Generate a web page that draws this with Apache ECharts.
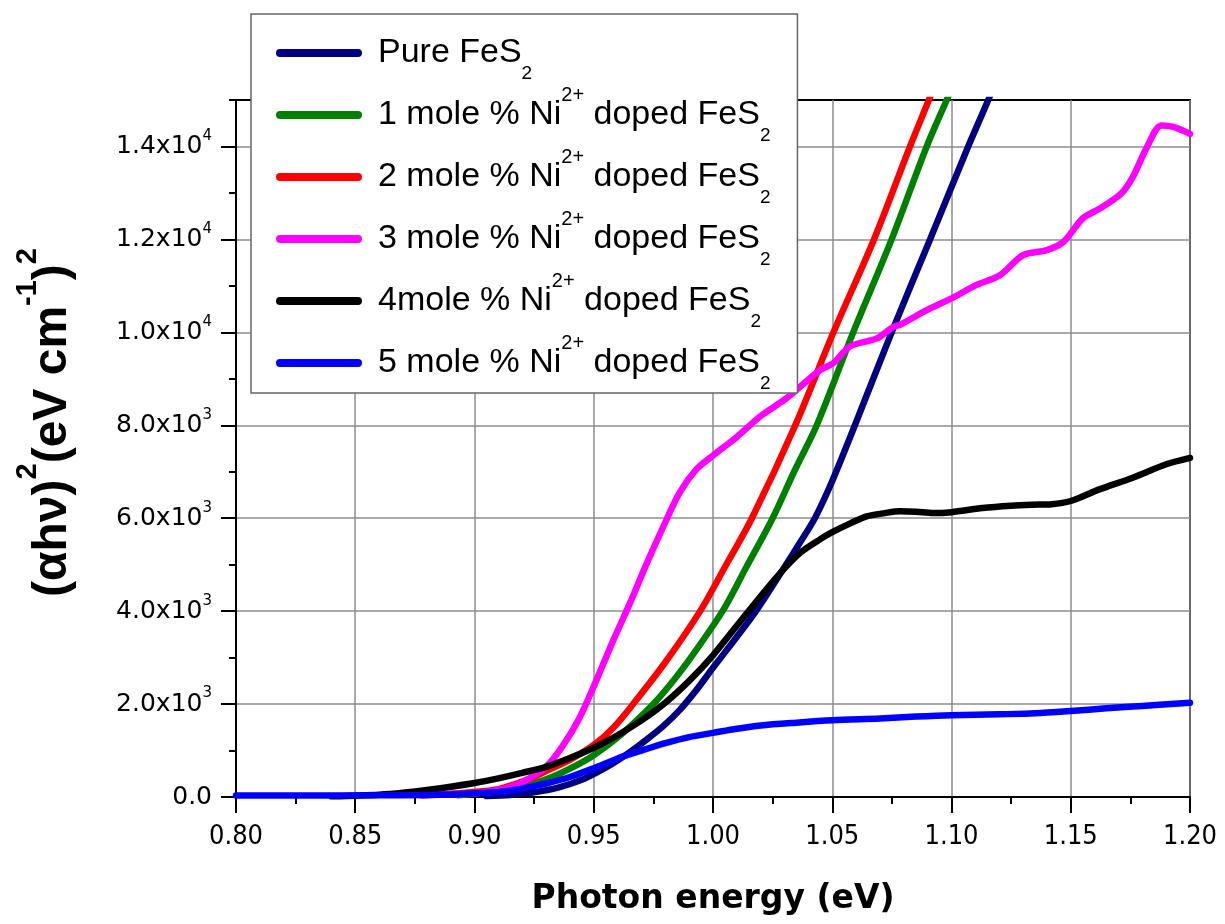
<!DOCTYPE html>
<html>
<head>
<meta charset="utf-8">
<script src="https://cdn.jsdelivr.net/npm/echarts@6/dist/echarts.min.js"></script>
<style>
html,body{margin:0;padding:0;background:#fff;}
#chart{width:1225px;height:924px;}
</style>
</head>
<body>
<div id="chart"></div>
<script>
// ---- data (photon energy in eV, (αhν)^2 values) ----
const seriesNames = ['Pure FeS2', '1 mole % Ni2+ doped FeS2', '2 mole % Ni2+ doped FeS2', '3 mole % Ni2+ doped FeS2', '4mole % Ni2+ doped FeS2', '5 mole % Ni2+ doped FeS2'];
const legendPrefix = ['Pure FeS', '1 mole % Ni', '2 mole % Ni', '3 mole % Ni', '4mole % Ni', '5 mole % Ni'];
const seriesColors = ['#000080', '#008000', '#ff0000', '#ff00ff', '#000000', '#0000ff'];

const xPure = [0.905,0.915,0.925,0.935,0.945,0.951,0.958,0.965,0.972,0.979,0.986,0.993,1.00,1.009,1.018,1.03,1.0364,1.0427,1.05,1.0595,1.0749,1.091,1.107,1.1154,1.12];
const yPure = [20,45,100,200,370,520,720,960,1230,1520,1870,2300,2780,3380,4000,4950,5470,6000,6800,8000,10000,12000,14000,15000,15600];

const xOne = [0.893,0.90,0.91,0.92,0.93,0.94,0.95,0.96,0.967,0.975,0.983,0.99,1.004,1.014,1.025,1.034,1.0435,1.0588,1.0749,1.0896,1.098,1.103];
const yOne = [40,70,130,230,380,610,900,1280,1600,2000,2480,2950,4000,4950,6000,7000,8000,10000,12000,14000,15000,15600];

const xTwo = [0.878,0.89,0.90,0.91,0.92,0.925,0.93,0.94,0.95,0.958,0.9665,0.98,0.9946,1.005,1.0163,1.0345,1.0505,1.0675,1.0826,1.0905,1.095];
const yTwo = [30,70,110,170,330,430,560,800,1120,1480,2000,2900,4000,4950,6000,8000,10000,12000,14000,15000,15600];

const xThree = [0.873,0.88,0.89,0.90,0.91,0.92,0.93,0.937,0.944,0.951,0.958,0.965,0.972,0.979,0.986,0.993,1.00,1.01,1.02,1.03,1.0365,1.045,1.0505,1.0575,1.0687,1.0757,1.0784,1.0896,1.10,1.1105,1.1203,1.13,1.14,1.147,1.155,1.162,1.171,1.176,1.182,1.188,1.193,1.20];
const yThree = [50,50,60,80,150,320,650,1100,1700,2500,3350,4150,5000,5800,6550,7050,7350,7750,8200,8550,8830,9190,9340,9700,9870,10120,10160,10480,10730,11020,11230,11660,11770,11950,12450,12660,12980,13340,13990,14450,14420,14270];

const xFour = [0.84,0.86,0.87,0.88,0.89,0.90,0.91,0.92,0.93,0.94,0.95,0.96,0.97,0.98,0.99,1.00,1.0141,1.027,1.0364,1.045,1.05,1.058,1.0644,1.072,1.0784,1.085,1.0924,1.10,1.113,1.125,1.134,1.142,1.15,1.162,1.176,1.19,1.20];
const yFour = [15,50,90,150,220,300,400,520,650,840,1060,1330,1650,2030,2500,3050,3950,4750,5250,5550,5700,5900,6040,6110,6150,6140,6110,6130,6220,6270,6290,6300,6370,6620,6870,7160,7300];

const xFive = [0.80,0.83,0.86,0.88,0.89,0.90,0.91,0.92,0.93,0.94,0.95,0.96,0.97,0.98,0.99,1.00,1.01,1.02,1.035,1.05,1.07,1.085,1.10,1.12,1.135,1.15,1.165,1.18,1.20];
const yFive = [30,30,35,45,55,80,110,180,290,430,620,830,1000,1160,1290,1380,1470,1540,1600,1650,1690,1730,1760,1780,1800,1850,1910,1960,2030];

const xTicks = [0.80,0.85,0.90,0.95,1.00,1.05,1.10,1.15,1.20];
const yTicks = [0,2000,4000,6000,8000,10000,12000,14000];

const xs = [xPure, xOne, xTwo, xThree, xFour, xFive];
const ys = [yPure, yOne, yTwo, yThree, yFour, yFive];

function zip(a, b) { return a.map((v, i) => [v, b[i]]); }

function yLabel(v) {
  if (v === 0) return '{b|0.0}';
  const e = Math.floor(Math.log10(v) + 1e-9);
  const m = (v / Math.pow(10, e)).toFixed(1);
  return '{b|' + m + 'x10}{s|' + e + '}';
}

function legendLabel(name) {
  const i = seriesNames.indexOf(name);
  if (i === 0) return '{g|}{t|' + legendPrefix[0] + '}{sub|2}';
  return '{g|}{t|' + legendPrefix[i] + '}{sup|2+}{t| doped FeS}{sub|2}';
}

const chart = echarts.init(document.getElementById('chart'), null, {renderer: 'canvas'});

const series = seriesNames.map((n, i) => ({
  name: n,
  type: 'line',
  yAxisIndex: 0,
  data: zip(xs[i], ys[i]),
  showSymbol: false,
  smooth: 0.3,
  clip: true,
  lineStyle: {color: seriesColors[i], width: 6.5, cap: 'round', join: 'round'},
  itemStyle: {color: seriesColors[i]}
}));

const option = {
  backgroundColor: '#fff',
  animation: false,
  grid: {left: 236, right: 35, top: 100, bottom: 127, show: true, borderColor: '#000', borderWidth: 2, backgroundColor: 'transparent'},
  legend: {
    orient: 'vertical',
    left: 251, top: 14,
    padding: [22, 27, 0, 25],
    itemWidth: 86, itemHeight: 8, itemGap: 2,
    icon: 'path://M4,0 H82 A4,4 0 0 1 82,8 H4 A4,4 0 0 1 4,0 Z',
    backgroundColor: '#fff',
    borderColor: '#666', borderWidth: 1.5,
    data: seriesNames,
    formatter: legendLabel,
    textStyle: {
      color: '#000',
      rich: {
        g: {width: 11},
        t: {fontFamily: '"Liberation Sans", Arial, sans-serif', fontSize: 34, lineHeight: 60, color: '#000'},
        sup: {fontFamily: '"Liberation Sans", Arial, sans-serif', fontSize: 20, lineHeight: 21, verticalAlign: 'top', color: '#000'},
        sub: {fontFamily: '"Liberation Sans", Arial, sans-serif', fontSize: 19, lineHeight: 20, verticalAlign: 'bottom', color: '#000'}
      }
    }
  },
  xAxis: {
    type: 'value', min: 0.8, max: 1.2, interval: 0.05,
    name: 'Photon energy (eV)', nameLocation: 'middle', nameGap: 86,
    nameTextStyle: {fontFamily: '"DejaVu Sans", Verdana, sans-serif', fontWeight: 'bold', fontSize: 33, color: '#000'},
    axisLine: {show: true, onZero: false, lineStyle: {color: '#000', width: 2}},
    axisTick: {show: true, inside: false, length: 16, lineStyle: {color: '#000', width: 2}},
    minorTick: {show: true, splitNumber: 2, length: 7, lineStyle: {color: '#000', width: 2}},
    axisLabel: {margin: 26, fontFamily: '"DejaVu Sans Condensed", "DejaVu Sans", sans-serif', fontSize: 27, color: '#000',
      formatter: v => v.toFixed(2)},
    splitLine: {show: true, lineStyle: {color: '#8c8c8c', width: 1.5}},
    minorSplitLine: {show: false}
  },
  yAxis: [
    {
      type: 'value', min: 0, max: 15000, interval: 1000,
      axisLine: {show: true, onZero: false, lineStyle: {color: '#000', width: 2}},
      axisTick: {show: true, inside: false, length: 7, lineStyle: {color: '#000', width: 2}},
      axisLabel: {show: false},
      splitLine: {show: false}
    },
    {
      type: 'value', min: 0, max: 15000, interval: 2000, position: 'left',
      name: '{b|(αhν)}{s|2}{b|(eV cm}{s|-1}{b|)}{s|2}',
      nameLocation: 'middle', nameGap: 143, nameRotate: 90,
      nameTextStyle: {
        padding: [0, 0, 0, 52],
        rich: {
          b: {fontFamily: '"Liberation Sans", Arial, sans-serif', fontWeight: 'bold', fontSize: 48, lineHeight: 80, color: '#000'},
          s: {fontFamily: '"Liberation Sans", Arial, sans-serif', fontWeight: 'bold', fontSize: 29, lineHeight: 31, verticalAlign: 'top', color: '#000'}
        }
      },
      axisLine: {show: true, onZero: false, lineStyle: {color: '#000', width: 2}},
      axisTick: {show: true, inside: false, length: 15, customValues: yTicks, lineStyle: {color: '#000', width: 2}},
      axisLabel: {
        margin: 24, customValues: yTicks,
        formatter: v => (v > 14000 ? '' : yLabel(v)),
        rich: {
          b: {fontFamily: '"DejaVu Sans", Verdana, sans-serif', fontSize: 25, lineHeight: 36, color: '#000'},
          s: {fontFamily: '"DejaVu Sans", Verdana, sans-serif', fontSize: 15, lineHeight: 13, verticalAlign: 'top', color: '#000'}
        }
      },
      splitLine: {show: true, lineStyle: {color: '#8c8c8c', width: 1.5}}
    }
  ],
  series: series
};

chart.setOption(option);
</script>
</body>
</html>
